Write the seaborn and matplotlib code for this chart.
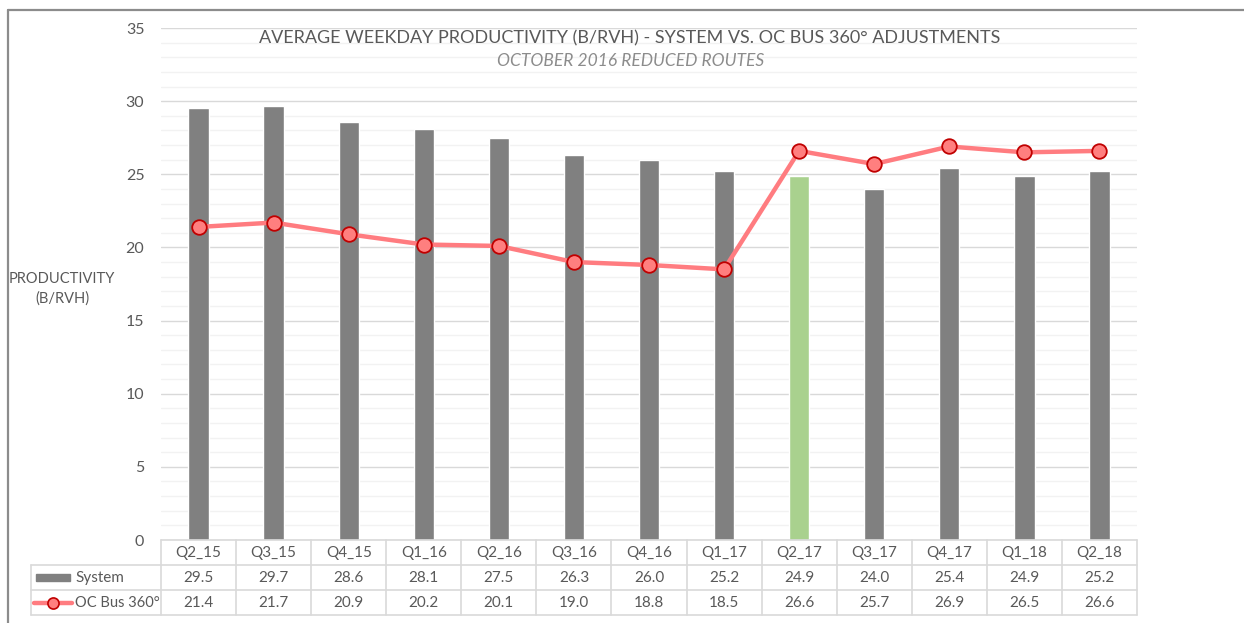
import matplotlib
matplotlib.use("Agg")
import matplotlib.pyplot as plt
import seaborn as sns
import numpy as np
import pandas as pd
from matplotlib.lines import Line2D
from matplotlib.patches import Rectangle

categories = ["Q2_15", "Q3_15", "Q4_15", "Q1_16", "Q2_16", "Q3_16", "Q4_16",
              "Q1_17", "Q2_17", "Q3_17", "Q4_17", "Q1_18", "Q2_18"]
system = [29.5, 29.7, 28.6, 28.1, 27.5, 26.3, 26.0, 25.2, 24.9, 24.0, 25.4, 24.9, 25.2]
oc_bus = [21.4, 21.7, 20.9, 20.2, 20.1, 19.0, 18.8, 18.5, 26.6, 25.7, 26.9, 26.5, 26.6]
series_names = ["System", "OC Bus 360°"]
title = "AVERAGE WEEKDAY PRODUCTIVITY (B/RVH) - SYSTEM VS. OC BUS 360° ADJUSTMENTS"
subtitle = "OCTOBER 2016 REDUCED ROUTES"
ylabel = "PRODUCTIVITY\n(B/RVH)"
highlight = "Q2_17"

GRAY = "#808080"
GREEN = "#A9D18E"
LINE = "#FF7C80"
MEDGE = "#C00000"
TXT = "#595959"

sns.set_theme(style="white")
plt.rcParams["font.family"] = ["Lato", "DejaVu Sans"]

W, H = 1244, 623
fig = plt.figure(figsize=(W / 100, H / 100), dpi=100)

def fx(x):
    return x / W

def fy(y):
    return 1 - y / H

L, R, T, B = 161, 1137, 28, 540
ax = fig.add_axes([fx(L), fy(B), fx(R) - fx(L), fy(T) - fy(B)])

df = pd.DataFrame({"cat": categories, "System": system, "OC": oc_bus})
palette = {c: (GREEN if c == highlight else GRAY) for c in categories}
sns.barplot(data=df, x="cat", y="System", hue="cat", palette=palette,
            width=0.27, saturation=1, legend=False, ax=ax, zorder=3)
sns.lineplot(x=np.arange(len(categories)), y=oc_bus, ax=ax, color=LINE,
             linewidth=3.2, marker="o", markersize=10.5,
             markerfacecolor="#FF7F7F", markeredgecolor=MEDGE,
             markeredgewidth=1.3, zorder=4)

ax.set_xlim(-0.5, len(categories) - 0.5)
ax.set_ylim(0, 35)
ax.set_yticks(np.arange(0, 36, 5))
ax.set_yticks(np.arange(0, 36, 1), minor=True)
ax.grid(axis="y", which="major", color="#D9D9D9", linewidth=1.0, zorder=0)
ax.grid(axis="y", which="minor", color="#F2F2F2", linewidth=1.0, zorder=0)
ax.set_axisbelow(True)
for s in ax.spines.values():
    s.set_visible(False)
ax.set_xticks([])
ax.set_xlabel("")
ax.set_ylabel("")
ax.tick_params(axis="y", which="both", length=0, pad=12, labelsize=11.5, labelcolor=TXT)

# titles and y label
fig.text(fx(630), fy(38), title, ha="center", va="center", fontsize=13,
         color=TXT, fontweight="normal", zorder=10)
fig.text(fx(631), fy(61), subtitle, ha="center", va="center", fontsize=12.5,
         color="#8C8C8C", style="italic", fontweight="normal", zorder=10)
fig.text(fx(62), fy(289), ylabel, ha="center", va="center", fontsize=10.5,
         color=TXT, linespacing=1.5)

# data table
grid_c = "#D9D9D9"
colw = (R - L) / len(categories)
rows_y = [540, 565, 590, 615]
tl = 31
FS = 11

def hline(x0, x1, y):
    fig.add_artist(Line2D([fx(x0), fx(x1)], [fy(y), fy(y)], color=grid_c, lw=1.2))

def vline(x, y0, y1):
    fig.add_artist(Line2D([fx(x), fx(x)], [fy(y0), fy(y1)], color=grid_c, lw=1.2))

hline(L, R, rows_y[0])
for y in rows_y[1:]:
    hline(tl, R, y)
vline(tl, rows_y[1], rows_y[3])
for k in range(len(categories) + 1):
    vline(L + k * colw, rows_y[0], rows_y[3])

for i, c in enumerate(categories):
    cx = L + (i + 0.5) * colw
    fig.text(fx(cx), fy(553), c, ha="center", va="center", fontsize=FS, color=TXT)
    fig.text(fx(cx), fy(578), f"{system[i]:.1f}", ha="center", va="center",
             fontsize=FS, color=TXT)
    fig.text(fx(cx), fy(603), f"{oc_bus[i]:.1f}", ha="center", va="center",
             fontsize=FS, color=TXT)

# legend keys in table
fig.add_artist(Rectangle((fx(36), fy(581)), fx(70) - fx(36), fy(574) - fy(581),
                         color=GRAY, transform=fig.transFigure))
fig.text(fx(75), fy(578), series_names[0], ha="left", va="center", fontsize=FS, color=TXT)
fig.add_artist(Line2D([fx(34), fx(72)], [fy(603), fy(603)], color=LINE, lw=3.2))
fig.add_artist(Line2D([fx(53)], [fy(603)], marker="o", markersize=8,
                      markerfacecolor="#FF7F7F", markeredgecolor=MEDGE,
                      markeredgewidth=1.2, linestyle="none"))
fig.text(fx(75), fy(603), series_names[1], ha="left", va="center", fontsize=10.5, color=TXT)

# outer frame
fig.add_artist(Line2D([fx(8), fx(W)], [fy(9.5), fy(9.5)], color="#8C8C8C", lw=1.6))
fig.add_artist(Line2D([fx(8), fx(8)], [fy(9.5), fy(H)], color="#8C8C8C", lw=1.6))

fig.savefig("out.png", dpi=100, facecolor="white")
